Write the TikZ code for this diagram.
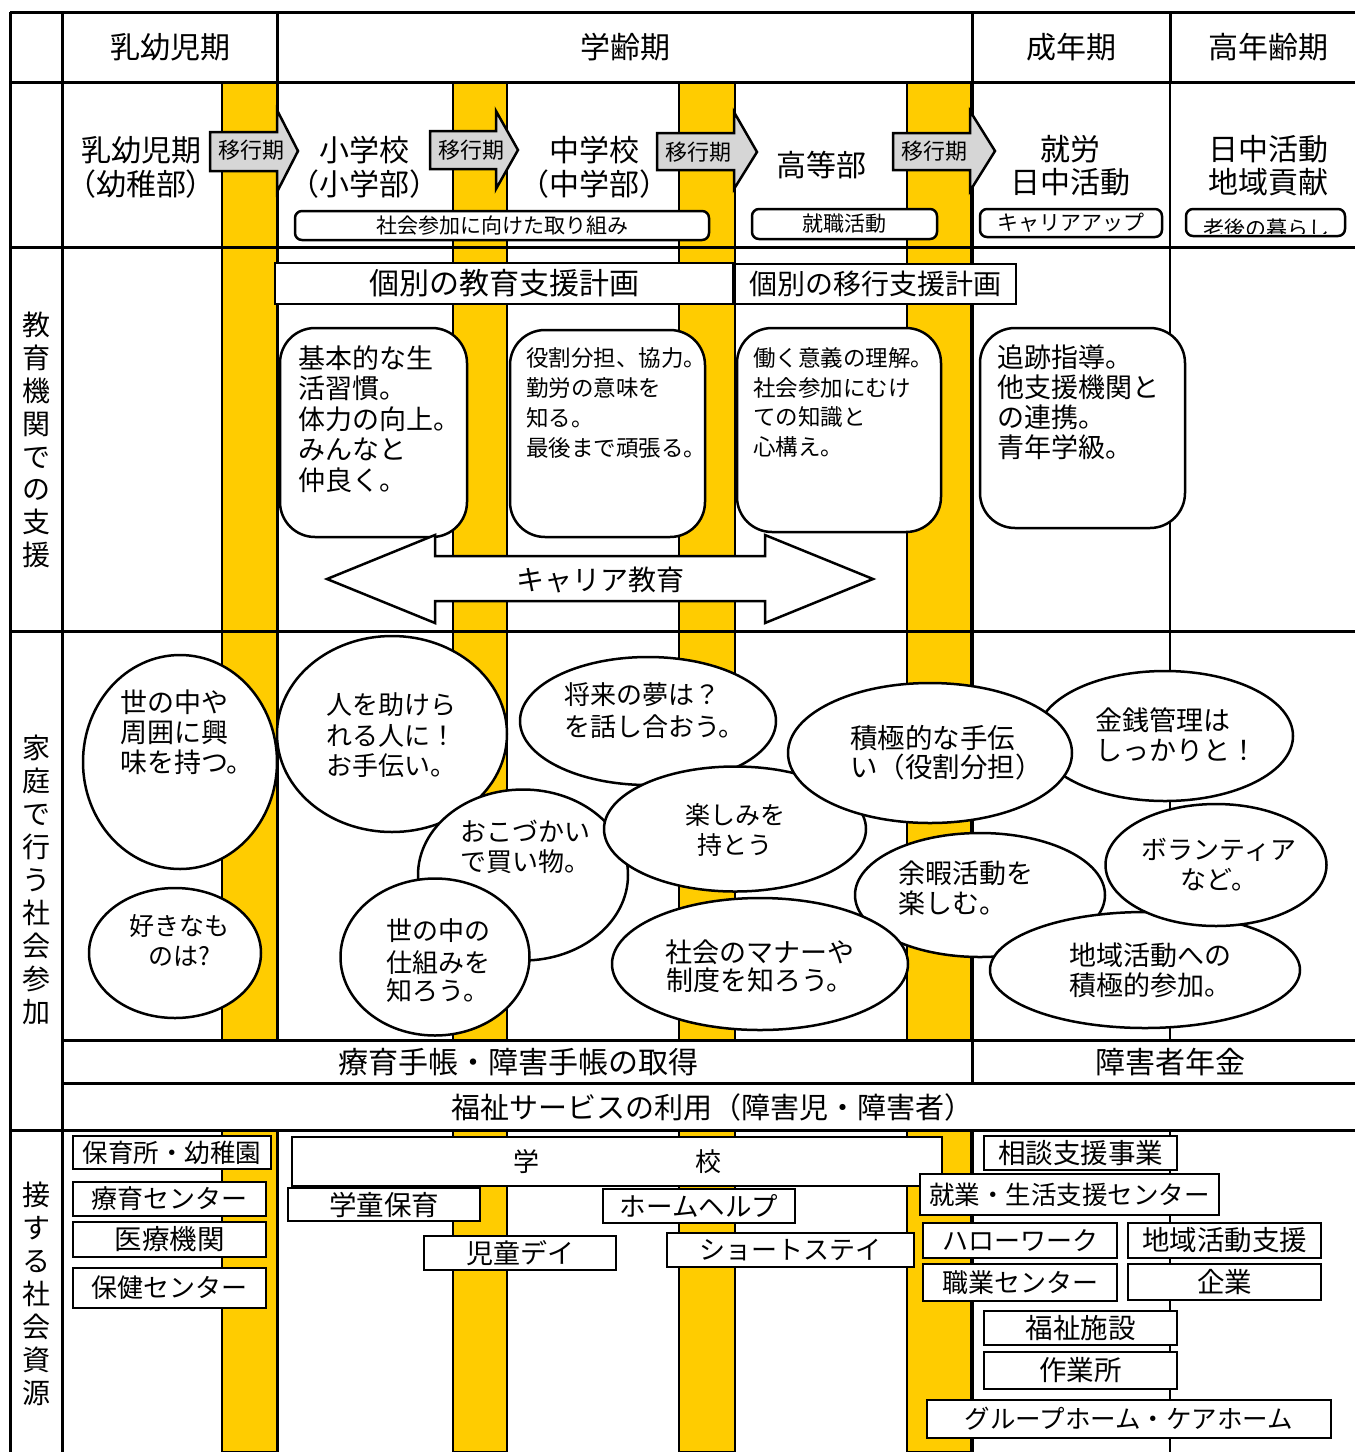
\documentclass[tikz,border=0pt]{standalone}
\usepackage{fontspec}
\setmainfont{Noto Sans CJK JP}
\usetikzlibrary{shapes.geometric}
\definecolor{bandyellow}{RGB}{255,204,0}
\definecolor{arrowgray}{RGB}{214,214,214}
\newcommand{\fsz}[2]{\fontsize{#1pt}{#2pt}\selectfont}
\begin{document}
\begin{tikzpicture}[x=1pt,y=-1pt,
  every node/.style={inner sep=0pt, outer sep=0pt},
  gridline/.style={line width=3pt},
  thingrid/.style={line width=2pt},
  band/.style={fill=bandyellow, draw=black, line width=1.6pt},
  stagearrow/.style={fill=arrowgray, draw=black, line width=2.5pt, line join=miter},
  careerarrow/.style={fill=white, draw=black, line width=2.5pt, line join=miter},
  smallbox/.style={draw=black, fill=white, line width=2.5pt, rounded corners=7pt},
  planbox/.style={draw=black, fill=white, line width=2.5pt},
  goalbox/.style={draw=black, fill=white, line width=2.5pt, rounded corners=35pt},
  bubble/.style={ellipse, draw=black, fill=white, line width=2.5pt},
  resbox/.style={draw=black, fill=white, line width=2.5pt},
]
\useasboundingbox (0,0) rectangle (1355,1452);
\fill[white] (0,0) rectangle (1355,1452);

% yellow transition bands
\foreach \a/\b in {222/277,453/507,679/735,907/971}{
  \filldraw[band] (\a,82) rectangle (\b,1040);
  \filldraw[band] (\a,1130) rectangle (\b,1452);
}

% table grid
\draw[gridline] (10,12) -- (1355,12);
\draw[gridline] (10,82) -- (1355,82);
\draw[gridline] (10,247) -- (1355,247);
\draw[gridline] (10,631) -- (1355,631);
\draw[gridline] (62,1040) -- (1355,1040);
\draw[gridline] (62,1083) -- (1355,1083);
\draw[gridline] (10,1130) -- (1355,1130);
\draw[gridline] (10,12) -- (10,1452);
\draw[gridline] (62,12) -- (62,1452);
\draw[gridline] (277,12) -- (277,1040);
\draw[gridline] (277,1130) -- (277,1452);
\draw[gridline] (972,12) -- (972,1083);
\draw[gridline] (972,1130) -- (972,1452);
\draw[gridline] (1170,12) -- (1170,82);
\draw[thingrid] (1170,82) -- (1170,1040);
\draw[thingrid] (1170,1130) -- (1170,1452);

% header row
\node[font=\fsz{30}{33}] (hA) at (170,47) {乳幼児期};
\node[font=\fsz{30}{33}] (hB) at (625,47) {学齢期};
\node[font=\fsz{30}{33}] (hC) at (1071,47) {成年期};
\node[font=\fsz{30}{33}] (hD) at (1268,47) {高年齢期};

% stage row
\node[font=\fsz{30}{34}, align=center] (sA) at (141,167) {乳幼児期\\（幼稚部）};
\node[font=\fsz{30}{34}, align=center] (sB) at (364,167) {小学校\\（小学部）};
\node[font=\fsz{30}{34}, align=center] (sC) at (594,167) {中学校\\（中学部）};
\node[font=\fsz{30}{34}, align=center] (sD) at (821,165) {高等部};
\node[font=\fsz{30}{33}, align=center] (sE) at (1070,166) {就労\\日中活動};
\node[font=\fsz{30}{33}, align=center] (sF) at (1268,166) {日中活動\\地域貢献};

% transition arrows
\draw[stagearrow] (210,132) -- (277,132) -- (277,110) -- (298,151) -- (277,192) -- (277,171) -- (210,171) -- cycle;
\node[font=\fsz{22}{22}] (mA) at (251,150) {移行期};
\draw[stagearrow] (430,131) -- (496,131) -- (496,111) -- (518,150) -- (496,189) -- (496,169) -- (430,169) -- cycle;
\node[font=\fsz{22}{22}] (mB) at (471,150) {移行期};
\draw[stagearrow] (657,133) -- (734,133) -- (734,112) -- (757,152) -- (734,189) -- (734,170) -- (657,170) -- cycle;
\node[font=\fsz{22}{22}] (mC) at (698,152) {移行期};
\draw[stagearrow] (893,133) -- (970,133) -- (970,111) -- (995,151) -- (970,191) -- (970,170) -- (893,170) -- cycle;
\node[font=\fsz{22}{22}] (mD) at (934,151) {移行期};

% small rounded boxes
\node[smallbox, minimum width=414pt, minimum height=29pt, font=\fsz{21}{21}] (rA) at (502,225.5) {社会参加に向けた取り組み};
\node[smallbox, minimum width=185pt, minimum height=30pt, font=\fsz{21}{21}] (rB) at (844.5,224) {就職活動};
\node[smallbox, minimum width=182pt, minimum height=28pt, font=\fsz{21}{21}] (rC) at (1071,223) {キャリアアップ};
\node[smallbox, minimum width=159pt, minimum height=27pt] (rD) at (1265.5,222.5) {};
\begin{scope}
  \clip (1188,211) rectangle (1343,233.5);
  \node[font=\fsz{21}{21}] (rDt) at (1266,229) {老後の暮らし};
\end{scope}

% plan boxes
\node[planbox, minimum width=458pt, minimum height=41pt, font=\fsz{30}{30}] (pA) at (504,283.5) {個別の教育支援計画};
\node[planbox, minimum width=281pt, minimum height=40pt, font=\fsz{28}{28}] (pB) at (875.5,284) {個別の移行支援計画};

% goal boxes
\node[goalbox, minimum width=187pt, minimum height=209pt] (gA) at (373.5,432.5) {};
\node[font=\fsz{27}{30.5}, align=left, anchor=west] (gAt) at (298,419) {基本的な生\\活習慣。\\体力の向上。\\みんなと\\仲良く。};
\node[goalbox, minimum width=195pt, minimum height=207pt] (gB) at (607.5,433.5) {};
\node[font=\fsz{22.5}{30}, align=left, anchor=west] (gBt) at (526,403) {役割分担、協力。\\勤労の意味を\\知る。\\最後まで頑張る。};
\node[goalbox, minimum width=204pt, minimum height=204pt] (gC) at (839,430) {};
\node[font=\fsz{22.5}{29.7}, align=left, anchor=west] (gCt) at (753,402.5) {働く意義の理解。\\社会参加にむけ\\ての知識と\\心構え。};
\node[goalbox, minimum width=205pt, minimum height=200pt] (gD) at (1082.5,428) {};
\node[font=\fsz{27}{30}, align=left, anchor=west] (gDt) at (997,402) {追跡指導。\\他支援機関と\\の連携。\\青年学級。};

% career education double arrow
\draw[careerarrow] (327,579) -- (435,535) -- (435,556) -- (765,556) -- (765,535) -- (873,579) -- (765,623) -- (765,601) -- (435,601) -- (435,623) -- cycle;
\node[font=\fsz{28}{28}] (ce) at (600,580) {キャリア教育};

% home participation bubbles
\node[bubble, minimum width=194pt, minimum height=214pt] (eA) at (180,762) {};
\node[font=\fsz{27}{30}, align=left, anchor=west] (eAt) at (120,732.5) {世の中や\\周囲に興\\味を持つ。};
\node[bubble, minimum width=172pt, minimum height=130pt] (eB) at (175,953) {};
\node[font=\fsz{25}{30}, align=center] (eBt) at (179,940) {好きなも\\のは?};
\node[bubble, minimum width=230pt, minimum height=196pt] (eC) at (392,734) {};
\node[font=\fsz{26}{30.5}, align=center] (eCt) at (391,735.5) {人を助けら\\れる人に！\\お手伝い。};
\node[bubble, minimum width=256pt, minimum height=128pt] (eD) at (648,721) {};
\node[font=\fsz{26}{32}, align=left, anchor=west] (eDt) at (564,711) {将来の夢は？\\を話し合おう。};
\node[bubble, minimum width=210pt, minimum height=171pt] (eE) at (523,875) {};
\node[font=\fsz{26}{30}, align=left, anchor=west] (eEt) at (460,847) {おこづかい\\で買い物。};
\node[bubble, minimum width=189pt, minimum height=157pt] (eG) at (435,957) {};
\node[font=\fsz{26}{28}, align=center] (eGt) at (438,961) {世の中の\\[4pt]仕組みを\\知ろう。};
\node[bubble, minimum width=262pt, minimum height=125pt] (eF) at (735,829) {};
\node[font=\fsz{25}{30}, align=center] (eFt) at (735,830) {楽しみを\\持とう};
\node[bubble, minimum width=256pt, minimum height=130pt] (eI) at (1165,736) {};
\node[font=\fsz{27}{30}, align=left, anchor=west] (eIt) at (1095,735) {金銭管理は\\しっかりと！};
\node[bubble, minimum width=284pt, minimum height=140pt] (eH) at (930,753) {};
\node[font=\fsz{27.5}{29}, align=left, anchor=west] (eHt) at (850,752.5) {積極的な手伝\\い（役割分担）};
\node[bubble, minimum width=250pt, minimum height=124pt] (eJ) at (980,895) {};
\node[font=\fsz{27}{30}, align=left, anchor=west] (eJt) at (898,888) {余暇活動を\\楽しむ。};
\node[bubble, minimum width=296pt, minimum height=132pt] (eK) at (760,964) {};
\node[font=\fsz{27}{28}, align=center] (eKt) at (760,966) {社会のマナーや\\制度を知ろう。};
\node[bubble, minimum width=310pt, minimum height=116pt] (eM) at (1145,970) {};
\node[font=\fsz{27}{30}, align=center] (eMt) at (1150,970) {地域活動への\\積極的参加。};
\node[bubble, minimum width=221pt, minimum height=122pt] (eL) at (1216,865) {};
\node[font=\fsz{26}{30}, align=center] (eLt) at (1219,865) {ボランティア\\など。};

% certificate / welfare rows
\node[font=\fsz{30}{30}] (tA) at (518,1062) {療育手帳・障害手帳の取得};
\node[font=\fsz{30}{30}] (tB) at (1170,1062) {障害者年金};
\node[font=\fsz{29}{29}] (tC) at (712,1107) {福祉サービスの利用（障害児・障害者）};

% left column labels
\node[font=\fsz{28}{32.8}, align=center] (lA) at (36,440) {教\\育\\機\\関\\で\\の\\支\\援};
\node[font=\fsz{28}{33}, align=center] (lB) at (36,879.5) {家\\庭\\で\\行\\う\\社\\会\\参\\加};
\node[font=\fsz{28}{33}, align=center] (lC) at (36,1294) {接\\す\\る\\社\\会\\資\\源};

% social resources
\node[resbox, minimum width=198pt, minimum height=33pt, font=\fsz{25.5}{25.5}] (kA) at (172,1152.5) {保育所・幼稚園};
\node[resbox, minimum width=193pt, minimum height=34pt, font=\fsz{26}{26}] (kB) at (169.5,1199) {療育センター};
\node[resbox, minimum width=193pt, minimum height=35pt, font=\fsz{27.5}{27.5}] (kC) at (169.5,1239.5) {医療機関};
\node[resbox, minimum width=193pt, minimum height=40pt, font=\fsz{26}{26}] (kD) at (169.5,1288) {保健センター};
\node[resbox, minimum width=650pt, minimum height=49pt, font=\fsz{26}{26}] (kE) at (617,1161.5) {学\hspace{156pt}校};
\node[resbox, minimum width=192pt, minimum height=33pt, font=\fsz{27.5}{27.5}] (kF) at (384,1204.5) {学童保育};
\node[resbox, minimum width=192pt, minimum height=34pt, font=\fsz{26.5}{26.5}] (kG) at (699,1206) {ホームヘルプ};
\node[resbox, minimum width=192pt, minimum height=34pt, font=\fsz{27}{27}] (kH) at (520,1253) {児童デイ};
\node[resbox, minimum width=247pt, minimum height=34pt, font=\fsz{26}{26}] (kI) at (790.5,1250) {ショートステイ};
\node[resbox, minimum width=193pt, minimum height=34pt, font=\fsz{27.5}{27.5}] (kJ) at (1080.5,1153) {相談支援事業};
\node[resbox, minimum width=299pt, minimum height=41pt, font=\fsz{25.5}{25.5}] (kK) at (1069.5,1194.5) {就業・生活支援センター};
\node[resbox, minimum width=194pt, minimum height=35pt, font=\fsz{26}{26}] (kL) at (1020,1240.5) {ハローワーク};
\node[resbox, minimum width=193pt, minimum height=35pt, font=\fsz{27.5}{27.5}] (kM) at (1224.5,1240.5) {地域活動支援};
\node[resbox, minimum width=194pt, minimum height=37pt, font=\fsz{26}{26}] (kN) at (1020,1282.5) {職業センター};
\node[resbox, minimum width=193pt, minimum height=36pt, font=\fsz{27.5}{27.5}] (kO) at (1224.5,1282) {企業};
\node[resbox, minimum width=193pt, minimum height=34pt, font=\fsz{27.5}{27.5}] (kP) at (1080.5,1328) {福祉施設};
\node[resbox, minimum width=193pt, minimum height=37pt, font=\fsz{27.5}{27.5}] (kQ) at (1080.5,1370.5) {作業所};
\node[resbox, minimum width=404pt, minimum height=38pt, font=\fsz{25.5}{25.5}] (kR) at (1129,1419) {グループホーム・ケアホーム};
\end{tikzpicture}
\end{document}
